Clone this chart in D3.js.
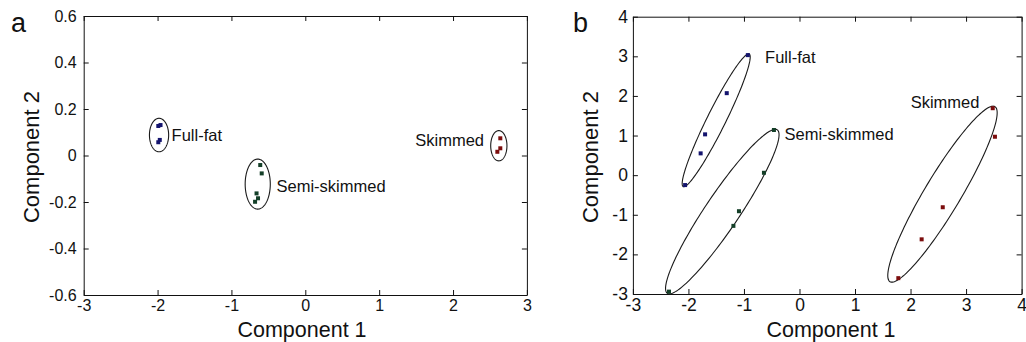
<!DOCTYPE html>
<html>
<head>
<meta charset="utf-8">
<script src="https://cdn.jsdelivr.net/npm/d3@7"></script>
<style>
  body { margin: 0; background: #fff; }
  svg { display: block; background: #fff; }
  text { font-family: "Liberation Sans", Arial, sans-serif; }
</style>
</head>
<body>
<svg id="chart" width="1026" height="342"></svg>
<script>
// ---- data: panel a ----
const a_group = ["Full-fat", "Full-fat", "Full-fat", "Full-fat",
                 "Semi-skimmed", "Semi-skimmed", "Semi-skimmed", "Semi-skimmed", "Semi-skimmed",
                 "Skimmed", "Skimmed", "Skimmed"];
const a_comp1 = [-1.99, -1.96, -1.97, -1.99, -0.61, -0.59, -0.66, -0.64, -0.68, 2.64, 2.64, 2.60];
const a_comp2 = [0.127, 0.131, 0.067, 0.057, -0.041, -0.077, -0.163, -0.184, -0.199, 0.074, 0.031, 0.016];

const a_xTicks = [-3, -2, -1, 0, 1, 2, 3];
const a_xLabels = ["-3", "-2", "-1", "0", "1", "2", "3"];
const a_yTicks = [0.6, 0.4, 0.2, 0, -0.2, -0.4, -0.6];
const a_yLabels = ["0.6", "0.4", "0.2", "0", "-0.2", "-0.4", "-0.6"];

// ellipse per group: centre, first and second semi-axis vectors (data units)
const a_ellGroup = ["Full-fat", "Semi-skimmed", "Skimmed"];
const a_ellCx = [-1.98, -0.644, 2.62];
const a_ellCy = [0.088, -0.123, 0.042];
const a_ellAx = [0, 0, 0];
const a_ellAy = [0.072, 0.1075, 0.065];
const a_ellBx = [0.13, 0.17, 0.11];
const a_ellBy = [0, 0, 0];

const a_labText = ["Full-fat", "Semi-skimmed", "Skimmed"];
const a_labX = [-1.81, -0.39, 2.42];
const a_labY = [0.088, -0.13, 0.067];
const a_labAnchor = ["start", "start", "end"];

// ---- data: panel b ----
const b_group = ["Full-fat", "Full-fat", "Full-fat", "Full-fat", "Full-fat",
                 "Semi-skimmed", "Semi-skimmed", "Semi-skimmed", "Semi-skimmed", "Semi-skimmed",
                 "Skimmed", "Skimmed", "Skimmed", "Skimmed", "Skimmed"];
const b_comp1 = [-0.93, -1.31, -1.70, -1.78, -2.06, -0.46, -0.64, -1.09, -1.19, -2.35, 3.48, 3.52, 2.58, 2.20, 1.78];
const b_comp2 = [3.03, 2.07, 1.03, 0.55, -0.25, 1.14, 0.06, -0.91, -1.28, -2.94, 1.69, 0.97, -0.81, -1.62, -2.60];

const b_xTicks = [-3, -2, -1, 0, 1, 2, 3, 4];
const b_xLabels = ["-3", "-2", "-1", "0", "1", "2", "3", "4"];
const b_yTicks = [4, 3, 2, 1, 0, -1, -2, -3];
const b_yLabels = ["4", "3", "2", "1", "0", "-1", "-2", "-3"];

const b_ellGroup = ["Full-fat", "Semi-skimmed", "Skimmed"];
const b_ellCx = [-1.50, -1.39, 2.575];
const b_ellCy = [1.384, -0.92, -0.48];
const b_ellAx = [0.594, 0.99, 0.945];
const b_ellAy = [1.674, 2.063, 2.209];
const b_ellBx = [0.150, 0.254, 0.278];
const b_ellBy = [-0.105, -0.24, -0.234];

const b_labText = ["Full-fat", "Semi-skimmed", "Skimmed"];
const b_labX = [-0.62, -0.27, 3.24];
const b_labY = [2.97, 1.04, 1.83];
const b_labAnchor = ["start", "start", "end"];

const color = d3.scaleOrdinal()
    .domain(["Full-fat", "Semi-skimmed", "Skimmed"])
    .range(["#14146e", "#143f28", "#7c0d0d"]);

const svg = d3.select("#chart");

function zip(xs, ys, gs) {
    return xs.map((v, i) => ({ x: v, y: ys[i], g: gs[i] }));
}

function draw_panel(opt) {
    let g = svg.append("g").classed("panel", true);

    let xScale = d3.scaleLinear().domain(opt.xDomain).range([opt.left, opt.right]);
    let yScale = d3.scaleLinear().domain(opt.yDomain).range([opt.bottom, opt.top]);

    let xFmt = d => opt.xLabels[opt.xTicks.indexOf(d)];
    let yFmt = d => opt.yLabels[opt.yTicks.indexOf(d)];

    // frame with inward ticks on every side (matlab look)
    g.append("g").attr("transform", `translate(0,${opt.bottom})`)
        .call(d3.axisBottom(xScale).tickValues(opt.xTicks).tickFormat(xFmt)
            .tickSizeInner(-5).tickSizeOuter(0).tickPadding(5));
    g.append("g").attr("transform", `translate(0,${opt.top})`)
        .call(d3.axisTop(xScale).tickValues(opt.xTicks).tickFormat("")
            .tickSizeInner(-5).tickSizeOuter(0));
    g.append("g").attr("transform", `translate(${opt.left},0)`)
        .call(d3.axisLeft(yScale).tickValues(opt.yTicks).tickFormat(yFmt)
            .tickSizeInner(-5).tickSizeOuter(0).tickPadding(opt.yPad));
    g.append("g").attr("transform", `translate(${opt.right},0)`)
        .call(d3.axisRight(yScale).tickValues(opt.yTicks).tickFormat("")
            .tickSizeInner(-5).tickSizeOuter(0));

    g.selectAll(".tick text")
        .attr("font-size", opt.tickFont)
        .attr("font-family", "Liberation Sans, Arial, sans-serif")
        .attr("fill", "#111");
    g.selectAll(".domain, .tick line").attr("stroke", "#111");

    // ellipses
    let line = d3.line().x(d => xScale(d[0])).y(d => yScale(d[1])).curve(d3.curveLinearClosed);
    let angles = d3.range(0, 360, 2).map(a => a * Math.PI / 180);
    let ells = opt.ellGroup.map((name, i) => angles.map(t => [
        opt.ellCx[i] + opt.ellAx[i] * Math.cos(t) + opt.ellBx[i] * Math.sin(t),
        opt.ellCy[i] + opt.ellAy[i] * Math.cos(t) + opt.ellBy[i] * Math.sin(t)
    ]));
    g.append("g").selectAll("path")
        .data(ells)
        .enter()
        .append("path")
        .attr("d", line)
        .attr("fill", "none")
        .attr("stroke", "#1a1a1a")
        .attr("stroke-width", 1.1);

    // score markers
    g.append("g").selectAll("rect")
        .data(opt.points)
        .enter()
        .append("rect")
        .attr("x", d => xScale(d.x) - 2)
        .attr("y", d => yScale(d.y) - 2)
        .attr("width", 4)
        .attr("height", 4)
        .attr("fill", d => color(d.g));

    // group labels
    g.append("g").selectAll("text")
        .data(opt.labText)
        .enter()
        .append("text")
        .attr("x", (d, i) => xScale(opt.labX[i]))
        .attr("y", (d, i) => yScale(opt.labY[i]))
        .attr("dy", "0.35em")
        .attr("text-anchor", (d, i) => opt.labAnchor[i])
        .attr("font-size", 16.5)
        .attr("fill", "#111")
        .text(d => d);

    // axis titles
    g.append("text")
        .attr("x", opt.titleX)
        .attr("y", 337)
        .attr("text-anchor", "middle")
        .attr("font-size", 21.5)
        .attr("fill", "#111")
        .text("Component 1");
    g.append("text")
        .attr("transform", `translate(${opt.titleY},157)rotate(-90)`)
        .attr("text-anchor", "middle")
        .attr("font-size", 22)
        .attr("fill", "#111")
        .text("Component 2");

    // panel letter
    g.append("text")
        .attr("x", opt.letterX)
        .attr("y", 32)
        .attr("font-size", 27)
        .attr("fill", "#111")
        .text(opt.letter);
}

draw_panel({
    letter: "a", letterX: 11,
    left: 83.7, right: 526.9, top: 16, bottom: 295,
    xDomain: [-3, 3], yDomain: [-0.6, 0.6],
    xTicks: a_xTicks, xLabels: a_xLabels, yTicks: a_yTicks, yLabels: a_yLabels,
    tickFont: 16, yPad: 7,
    points: zip(a_comp1, a_comp2, a_group),
    ellGroup: a_ellGroup, ellCx: a_ellCx, ellCy: a_ellCy,
    ellAx: a_ellAx, ellAy: a_ellAy, ellBx: a_ellBx, ellBy: a_ellBy,
    labText: a_labText, labX: a_labX, labY: a_labY, labAnchor: a_labAnchor,
    titleX: 302, titleY: 38.5
});

draw_panel({
    letter: "b", letterX: 573,
    left: 632.9, right: 1021.6, top: 16.7, bottom: 294,
    xDomain: [-3, 4], yDomain: [-3, 4],
    xTicks: b_xTicks, xLabels: b_xLabels, yTicks: b_yTicks, yLabels: b_yLabels,
    tickFont: 17.5, yPad: 5,
    points: zip(b_comp1, b_comp2, b_group),
    ellGroup: b_ellGroup, ellCx: b_ellCx, ellCy: b_ellCy,
    ellAx: b_ellAx, ellAy: b_ellAy, ellBx: b_ellBx, ellBy: b_ellBy,
    labText: b_labText, labX: b_labX, labY: b_labY, labAnchor: b_labAnchor,
    titleX: 831, titleY: 598
});
</script>
</body>
</html>
